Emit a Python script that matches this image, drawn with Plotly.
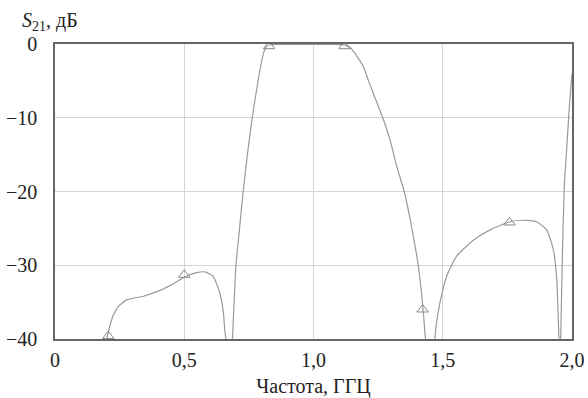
import plotly.graph_objects as go

# Curve data (GHz, dB); None separates branches that leave the plot window
freq = [0.200, 0.210, 0.225, 0.245, 0.277, 0.342, 0.406, 0.458, 0.507, 0.548, 0.580, 0.612, 0.638, 0.651, 0.658, 0.664,
        None,
        0.686, 0.700, 0.714, 0.728, 0.745, 0.763, 0.786, 0.806, 0.819, 0.832, 0.900, 1.000, 1.080,
        1.105, 1.122, 1.140, 1.165, 1.193, 1.212, 1.240, 1.268, 1.296, 1.322, 1.351, 1.373, 1.392, 1.405, 1.418,
        1.426, 1.431, 1.435,
        None,
        1.468, 1.475, 1.489, 1.515, 1.553, 1.618, 1.683, 1.760, 1.811, 1.863, 1.902, 1.928, 1.941, 1.947, 1.950,
        None,
        1.956, 1.962, 1.970, 1.980, 1.988, 1.995, 2.000]
s21 = [-40.0, -38.5, -36.8, -35.6, -34.7, -34.2, -33.4, -32.5, -31.5, -31.0, -30.9, -31.5, -33.8, -36.3, -39.2, -40.5,
       None,
       -40.5, -30.0, -25.0, -20.0, -14.8, -10.0, -4.9, -1.3, -0.3, -0.1, -0.05, -0.05, -0.05,
       -0.08, -0.15, -0.45, -1.5, -3.1, -4.9, -7.5, -10.0, -13.0, -16.6, -20.0, -23.6, -27.2, -30.0, -33.8,
       -36.8, -39.2, -40.5,
       None,
       -40.5, -38.0, -35.1, -31.5, -28.8, -26.6, -25.2, -24.1, -23.9, -24.1, -25.2, -27.9, -32.0, -37.4, -40.5,
       None,
       -40.5, -30.0, -19.3, -13.9, -9.4, -6.2, -4.0]

marker_freq = [0.206, 0.500, 0.828, 1.120, 1.422, 1.758]
marker_s21 = [-39.6, -31.3, -0.3, -0.3, -36.0, -24.2]

x_ticks = [0, 0.5, 1.0, 1.5, 2.0]
x_ticktext = ["0", "0,5", "1,0", "1,5", "2,0"]
y_ticks = [0, -10, -20, -30, -40]
y_ticktext = ["0", "\u221210", "\u221220", "\u221230", "\u221240"]

FONT = "Times New Roman, Liberation Serif, serif"
CURVE = "#999999"

fig = go.Figure()
fig.add_trace(go.Scatter(x=freq, y=s21, mode="lines", connectgaps=False,
                         line=dict(color=CURVE, width=1.2, shape="spline", smoothing=0.5),
                         showlegend=False, hoverinfo="skip"))
fig.add_trace(go.Scatter(x=marker_freq, y=marker_s21, mode="markers",
                         marker=dict(symbol="triangle-up-open", size=10, color="#888888",
                                     line=dict(width=1, color="#888888")),
                         showlegend=False, hoverinfo="skip"))

fig.update_layout(
    width=588, height=398,
    margin=dict(l=55, r=16, t=44, b=59, autoexpand=False),
    paper_bgcolor="white", plot_bgcolor="white",
    font=dict(family=FONT, size=20, color="#222222"),
    xaxis=dict(range=[0, 2.0], tickvals=x_ticks, ticktext=x_ticktext, automargin=False,
               showgrid=True, gridcolor="#d4d4d4", gridwidth=1,
               showline=True, linecolor="#666666", linewidth=1.5, mirror=True,
               zeroline=False, ticks="", ticklabelstandoff=2,
               title=dict(text="Частота, ГГЦ", standoff=10, font=dict(size=20))),
    yaxis=dict(range=[-40, 0], tickvals=y_ticks, ticktext=y_ticktext, automargin=False,
               showgrid=True, gridcolor="#d4d4d4", gridwidth=1,
               showline=True, linecolor="#666666", linewidth=1.5, mirror=True,
               zeroline=False, ticks="", ticklabelstandoff=12),
    annotations=[dict(text="<i>S</i><sub>21</sub>, дБ", xref="paper", yref="paper",
                      x=-0.068, y=1.075, xanchor="left", yanchor="middle",
                      showarrow=False, font=dict(size=20, family=FONT))],
)

fig.write_html("out.html", config={"displayModeBar": False},
               post_script="document.body.style.margin='0';document.body.style.overflow='hidden';")
